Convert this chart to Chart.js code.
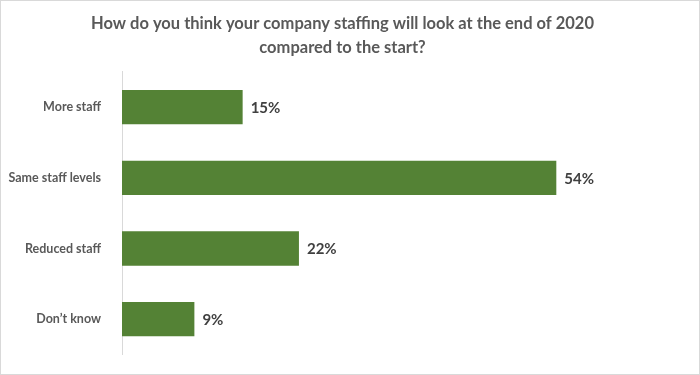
<!DOCTYPE html>
<html lang="en">
<head>
  <meta charset="UTF-8">
  <title>Company staffing 2020</title>
  <style>
    html, body { margin: 0; padding: 0; background: #ffffff; }
    #wrap { width: 700px; height: 375px; }
  </style>
</head>
<body>
  <div id="wrap">
    <canvas id="chart_staff" width="700" height="375"></canvas>
  </div>

<script src="https://cdn.jsdelivr.net/npm/chart.js"></script>
<script>
  // dados do gráfico
  const categorias = ["More staff", "Same staff levels", "Reduced staff", "Don\u2019t know"];
  const valores = [15, 54, 22, 9];
  const titulo = ["How do you think your company staffing will look at the end of 2020", "compared to the start?"];

  // rótulos de valor no fim de cada barra
  const rotulosBarra = {
    id: "rotulosBarra",
    afterDatasetsDraw(chart) {
      const ctx = chart.ctx;
      const meta = chart.getDatasetMeta(0);
      ctx.save();
      ctx.font = "bold 15px Lato";
      ctx.fillStyle = "#404040";
      ctx.textAlign = "left";
      ctx.textBaseline = "middle";
      meta.data.forEach((bar, i) => {
        ctx.fillText(valores[i] + "%", bar.x + 8, bar.y + 1);
      });
      ctx.restore();
    }
  };

  // borda cinza em volta da imagem
  const borda = {
    id: "borda",
    afterDraw(chart) {
      const ctx = chart.ctx;
      ctx.save();
      ctx.strokeStyle = "#d9d9d9";
      ctx.lineWidth = 1;
      ctx.strokeRect(0.5, 0.5, chart.width - 1, chart.height - 1);
      ctx.restore();
    }
  };

  new Chart(document.getElementById("chart_staff"), {
    type: "bar",
    data: {
      labels: categorias,
      datasets: [{
        data: valores,
        backgroundColor: "#548235",
        categoryPercentage: 0.485,
        barPercentage: 1
      }]
    },
    options: {
      indexAxis: "y",
      responsive: false,
      animation: false,
      layout: { padding: { left: 0, right: 15, top: 2, bottom: 16 } },
      plugins: {
        legend: { display: false },
        tooltip: { enabled: false },
        title: {
          display: true,
          text: titulo,
          color: "#595959",
          font: { family: "Lato", size: 16.5, weight: "bold", lineHeight: 1.45 },
          padding: { top: 10, bottom: 12 }
        }
      },
      scales: {
        x: {
          display: false,
          min: 0,
          max: 70
        },
        y: {
          grid: { display: false },
          border: { color: "#d9d9d9" },
          ticks: {
            color: "#595959",
            font: { family: "Lato", size: 12.5, weight: "bold" },
            padding: 13
          },
          afterFit(scale) { scale.width = 122; }
        }
      }
    },
    plugins: [rotulosBarra, borda]
  });
</script>
</body>
</html>
